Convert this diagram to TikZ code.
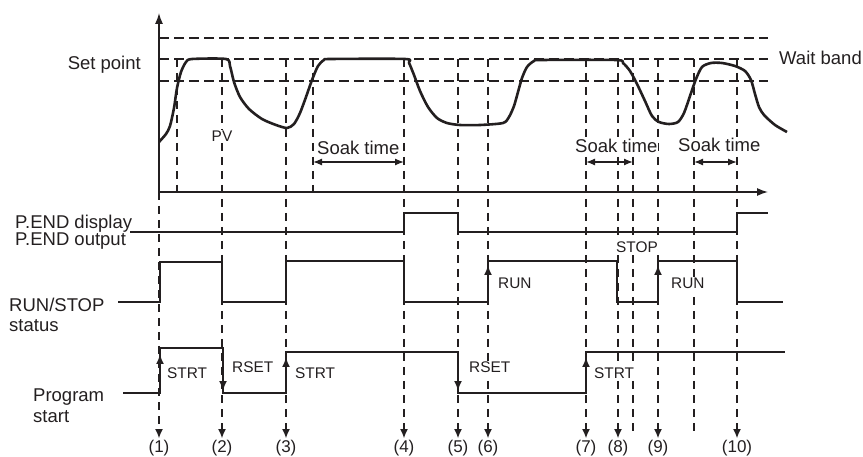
\documentclass[tikz,border=0pt]{standalone}
\usepackage{fontspec}
\setmainfont{Liberation Sans}
\usetikzlibrary{arrows.meta}
\definecolor{ink}{HTML}{231F20}
\begin{document}
\begin{tikzpicture}[x=1pt,y=-1pt,
  sig/.style={line width=2.6pt, draw=ink, line join=miter},
  ax/.style={line width=1.4pt, draw=ink},
  vdash/.style={line width=1.1pt, draw=ink, dash pattern=on 8pt off 6pt},
  hdash/.style={line width=1.1pt, draw=ink, dash pattern=on 10pt off 5pt},
  spdash/.style={line width=2pt, draw=ink, dash pattern=on 10pt off 5pt},
  big/.style={font=\fontsize{18.5}{20}\selectfont, text=ink, inner sep=0pt},
  small/.style={font=\fontsize{15.4}{17}\selectfont, text=ink, inner sep=0pt},
  num/.style={font=\fontsize{17}{19}\selectfont, text=ink, inner sep=0pt},
  blank/.style={fill=white, inner xsep=1pt, inner ysep=1.5pt},
  axtip/.style={-{Latex[length=11pt,width=8pt]}},
  dtip/.style={-{Latex[length=9pt,width=8pt]}},
  stip/.style={-{Latex[length=10pt,width=8pt]}},
  soak/.style={line width=1.3pt, draw=ink, {Latex[length=9pt,width=7pt]}-{Latex[length=9pt,width=7pt]}},
]
\useasboundingbox (0,0) rectangle (863,457);

% horizontal dashed band lines
\draw[hdash] (159,38) -- (768,38);
\draw[spdash] (159,59) -- (768,59);
\draw[hdash] (159,81) -- (768,81);

% short dashed verticals (top only)
\draw[vdash] (177,59) -- (177,192);
\draw[vdash] (313,59) -- (313,192);
% long dashed verticals without arrow
\draw[vdash] (633,59) -- (633,433);
\draw[vdash] (694,59) -- (694,433);
% event lines with arrows and numbers
\draw[vdash,dtip] (159,192) -- (159,438);
\node[num,anchor=base] (n1) at (159,452) {(1)};
\foreach \x/\l in {222/2,286/3,404/4,458/5,488/6,586/7,618/8,658/9,737/10}{
  \draw[vdash,dtip] (\x,59) -- (\x,438);
  \node[num,anchor=base] (n\l) at (\x,452) {(\l)};
}

% axes
\draw[ax,axtip] (159,192) -- (159,13);
\draw[ax,axtip] (159,192) -- (768,192);

% labels in top area
\node[big,anchor=base east] (sp) at (141,70) {Set point};
\node[big,anchor=base west] (wb) at (779,65) {Wait band};
\node[small,blank,anchor=base] (pv) at (222,142) {PV};
\node[big,blank,anchor=base west] (s1) at (316,155) {Soak time};
\node[big,blank,anchor=base west] (s2) at (574,153) {Soak time};
\node[big,blank,anchor=base west] (s3) at (677,152) {Soak time};
\coordinate (a1) at (313,162); \coordinate (b1) at (404,162);
\coordinate (a2) at (586,162); \coordinate (b2) at (633,162);
\coordinate (a3) at (694,162); \coordinate (b3) at (737,162);
\draw[soak] (a1) -- (b1);
\draw[soak] (a2) -- (b2);
\draw[soak] (a3) -- (b3);

% PV curve
\draw[sig,line join=round] plot[smooth,tension=0.45] coordinates {
 (159,142) (166,134) (170,126) (174,108) (177,88) (181,72) (186,62) (192,59)
 (226,59) (230,66) (234,82) (240,97) (249,109) (262,119) (276,125) (287,128)
 (294,124) (300,113) (306,97) (312,80) (318,66) (324,60) (331,59)
 (405,59) (409,63) (414,75) (420,91) (428,107) (437,118) (447,123) (460,125)
 (480,125) (503,123) (509,117) (514,106) (518,92) (522,78) (527,67) (534,61) (542,60)
 (616,60) (623,63) (630,71) (637,84) (645,101) (652,116) (659,122) (669,124)
 (678,122) (684,113) (690,96) (696,79) (702,67) (711,63) (722,63) (735,66)
 (745,71) (751,80) (755,94) (759,107) (764,115) (775,125) (787,132)};

% P.END signal
\node[big,anchor=base west] (pd) at (15,229) {P.END display};
\node[big,anchor=base west] (po) at (15,246) {P.END output};
\draw[sig] (130,232) -- (404,232) -- (404,213) -- (458,213) -- (458,232) -- (737,232) -- (737,213) -- (768,213);

% RUN/STOP signal
\node[big,anchor=base west] (rs) at (9,312) {RUN/STOP};
\node[big,anchor=base west] (st) at (9,331) {status};
\node[small,blank,anchor=base west] (run1) at (497,289) {RUN};
\node[small,blank,anchor=base west] (run2) at (670,289) {RUN};
\node[small,blank,anchor=base west] (stop) at (615,253) {STOP};
\draw[sig] (118,302) -- (160,302) -- (160,262) -- (222,262) -- (222,302) -- (286,302) -- (286,261)
  -- (404,261) -- (404,302) -- (488,302) -- (488,261) -- (617,261) -- (617,302) -- (658,302)
  -- (658,261) -- (737,261) -- (737,302) -- (783,302);
\draw[sig,stip] (488,290) -- (488,265);
\draw[sig,stip] (658,290) -- (658,265);

% Program start signal
\node[big,anchor=base west] (ps) at (33,402) {Program};
\node[big,anchor=base west] (ps2) at (33,422) {start};
\node[small,blank,anchor=base west] (strt1) at (166,378) {STRT};
\node[small,blank,anchor=base west] (rset1) at (231,373) {RSET};
\node[small,blank,anchor=base west] (strt2) at (294,378) {STRT};
\node[small,blank,anchor=base west] (rset2) at (468,373) {RSET};
\node[small,blank,anchor=base west] (strt3) at (593,378) {STRT};
\draw[sig] (123,393) -- (160,393) -- (160,348) -- (223,348) -- (223,393) -- (286,393) -- (286,352)
  -- (458,352) -- (458,393) -- (586,393) -- (586,352) -- (785,352);
\draw[sig,stip] (160,380) -- (160,354);
\draw[sig,stip] (223,360) -- (223,391);
\draw[sig,stip] (286,380) -- (286,357);
\draw[sig,stip] (458,364) -- (458,391);
\draw[sig,stip] (586,380) -- (586,357);
\end{tikzpicture}
\end{document}
